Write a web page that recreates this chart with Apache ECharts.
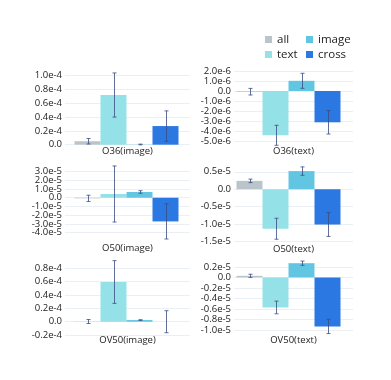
<!DOCTYPE html>
<html>
<head>
<meta charset="utf-8">
<script src="https://cdn.jsdelivr.net/npm/echarts@6/dist/echarts.min.js"></script>
<style>
  html, body { margin: 0; padding: 0; background: #ffffff; }
  #chart { width: 391px; height: 380px; }
</style>
</head>
<body>
<div id="chart"></div>
<script>
// groups shown in every panel, in bar order
const groups = ["all", "text", "image", "cross"];
const colors = ["#b9c5ca", "#94e1e7", "#62c6e3", "#2b78e3"];

const panelNames = ["O36(image)", "O36(text)", "O50(image)", "O50(text)", "OV50(image)", "OV50(text)"];

// bar heights and error half-widths per panel
const o36ImageVals = [0.05e-4, 0.72e-4, 0.003e-4, 0.27e-4];
const o36ImageErr = [0.04e-4, 0.32e-4, 0.005e-4, 0.22e-4];
const o36TextVals = [-0.07e-6, -4.43e-6, 1.02e-6, -3.13e-6];
const o36TextErr = [0.33e-6, 1.0e-6, 0.75e-6, 1.17e-6];
const o50ImageVals = [-0.07e-5, 0.43e-5, 0.66e-5, -2.72e-5];
const o50ImageErr = [0.36e-5, 3.22e-5, 0.15e-5, 2.02e-5];
const o50TextVals = [0.24e-5, -1.13e-5, 0.52e-5, -1.01e-5];
const o50TextErr = [0.05e-5, 0.3e-5, 0.12e-5, 0.34e-5];
const ov50ImageVals = [0.003e-4, 0.595e-4, 0.025e-4, 0.0];
const ov50ImageErr = [0.03e-4, 0.32e-4, 0.005e-4, 0.165e-4];
const ov50TextVals = [0.03e-5, -0.57e-5, 0.27e-5, -0.93e-5];
const ov50TextErr = [0.03e-5, 0.12e-5, 0.04e-5, 0.135e-5];

// y axis: tick step, exponent used in labels, range
const tickSteps = [0.2e-4, 1e-6, 1e-5, 0.5e-5, 0.2e-4, 0.2e-5];
const tickExps = [4, 6, 5, 5, 4, 5];
const axisMins = [-0.019e-4, -5.5e-6, -4.97e-5, -1.51e-5, -0.205e-4, -1.1e-5];
const axisMaxs = [1.068e-4, 2.05e-6, 3.76e-5, 0.68e-5, 0.94e-4, 0.34e-5];

const allVals = [o36ImageVals, o36TextVals, o50ImageVals, o50TextVals, ov50ImageVals, ov50TextVals];
const allErrs = [o36ImageErr, o36TextErr, o50ImageErr, o50TextErr, ov50ImageErr, ov50TextErr];

const BAR_W = 26;
const FONT = "Open Sans";
const TXT = "#222222";

// panel boxes
const grids = [
  { left: 65, width: 125, top: 71, height: 75, spacer: 2, labelMargin: 0 },
  { left: 234, width: 119, top: 70.5, height: 75.5, spacer: 10, labelMargin: 0 },
  { left: 65, width: 125, top: 165, height: 76, spacer: 2, labelMargin: 2 },
  { left: 234, width: 119, top: 165.5, height: 76.5, spacer: 10, labelMargin: 2 },
  { left: 65, width: 125, top: 259, height: 76.4, spacer: 2, labelMargin: 0 },
  { left: 234, width: 119, top: 259.5, height: 75.9, spacer: 10, labelMargin: 0 },
];

const fmt = (step, exp) => (v) => {
  const k = v / step;
  if (Math.abs(k - Math.round(k)) > 1e-6) return "";
  if (Math.abs(v) < step * 1e-6) return "0.0";
  return (v / Math.pow(10, -exp)).toFixed(1) + "e-" + exp;
};

const errorItem = (shift) => (params, api) => {
  const v = api.value(1);
  const e = api.value(2);
  const x = Math.round(api.coord([0, v])[0] + (params.dataIndex - 1.5) * BAR_W + shift) + 0.5;
  const y1 = api.coord([0, v + e])[1];
  const y2 = api.coord([0, v - e])[1];
  const style = { stroke: "#3a4c80", lineWidth: 1, opacity: 0.8 };
  return {
    type: "group",
    children: [
      { type: "line", shape: { x1: x, y1: y1, x2: x, y2: y2 }, style: style },
      { type: "line", shape: { x1: x - 2, y1: y1, x2: x + 2, y2: y1 }, style: style },
      { type: "line", shape: { x1: x - 2, y1: y2, x2: x + 2, y2: y2 }, style: style },
    ],
  };
};

const chart = echarts.init(document.getElementById("chart"));

const series = [];
panelNames.forEach((name, p) => {
  groups.forEach((g, i) => {
    series.push({
      type: "bar",
      name: g,
      xAxisIndex: p,
      yAxisIndex: p,
      barWidth: BAR_W,
      barGap: "0%",
      itemStyle: { color: colors[i] },
      data: [allVals[p][i]],
    });
  });
  // empty slot so the group sits a bit left of the panel centre
  series.push({
    type: "bar",
    xAxisIndex: p,
    yAxisIndex: p,
    barWidth: grids[p].spacer,
    barGap: "0%",
    data: [null],
    silent: true,
  });
  series.push({
    type: "custom",
    xAxisIndex: p,
    yAxisIndex: p,
    renderItem: errorItem(-grids[p].spacer / 2),
    encode: { x: 0, y: 1 },
    data: allVals[p].map((v, i) => [0, v, allErrs[p][i]]),
    z: 10,
    silent: true,
  });
});

const legendBase = {
  orient: "vertical",
  top: 33,
  padding: 0,
  itemWidth: 7,
  itemHeight: 7,
  itemGap: 2,
  icon: "rect",
  textStyle: { fontSize: 11.5, color: TXT, fontFamily: FONT, lineHeight: 13 },
};

const option = {
  animation: false,
  backgroundColor: "#ffffff",
  textStyle: { fontFamily: FONT },
  legend: [
    Object.assign({}, legendBase, { data: ["all", "text"], left: 265 }),
    Object.assign({}, legendBase, { data: ["image", "cross"], left: 306 }),
  ],
  grid: grids.map((g) => ({
    left: g.left,
    width: g.width,
    top: g.top,
    height: g.height,
    containLabel: false,
    outerBoundsMode: "none",
  })),
  xAxis: panelNames.map((name, p) => ({
    type: "category",
    gridIndex: p,
    data: [name],
    axisLine: { show: false },
    axisTick: { show: false },
    axisLabel: { fontSize: 9.5, color: TXT, fontFamily: FONT, margin: grids[p].labelMargin },
  })),
  yAxis: panelNames.map((name, p) => ({
    type: "value",
    gridIndex: p,
    min: axisMins[p],
    max: axisMaxs[p],
    splitNumber: 6,
    minInterval: tickSteps[p],
    maxInterval: tickSteps[p],
    axisLine: { show: false },
    axisTick: { show: false },
    splitLine: { lineStyle: { color: "#e9eff4", width: 1 }, showMinLine: false, showMaxLine: false },
    axisLabel: {
      fontSize: 9.5,
      color: TXT,
      fontFamily: FONT,
      margin: 3,
      showMinLabel: false,
      showMaxLabel: false,
      formatter: fmt(tickSteps[p], tickExps[p]),
    },
  })),
  series: series,
};

chart.setOption(option);
</script>
</body>
</html>
